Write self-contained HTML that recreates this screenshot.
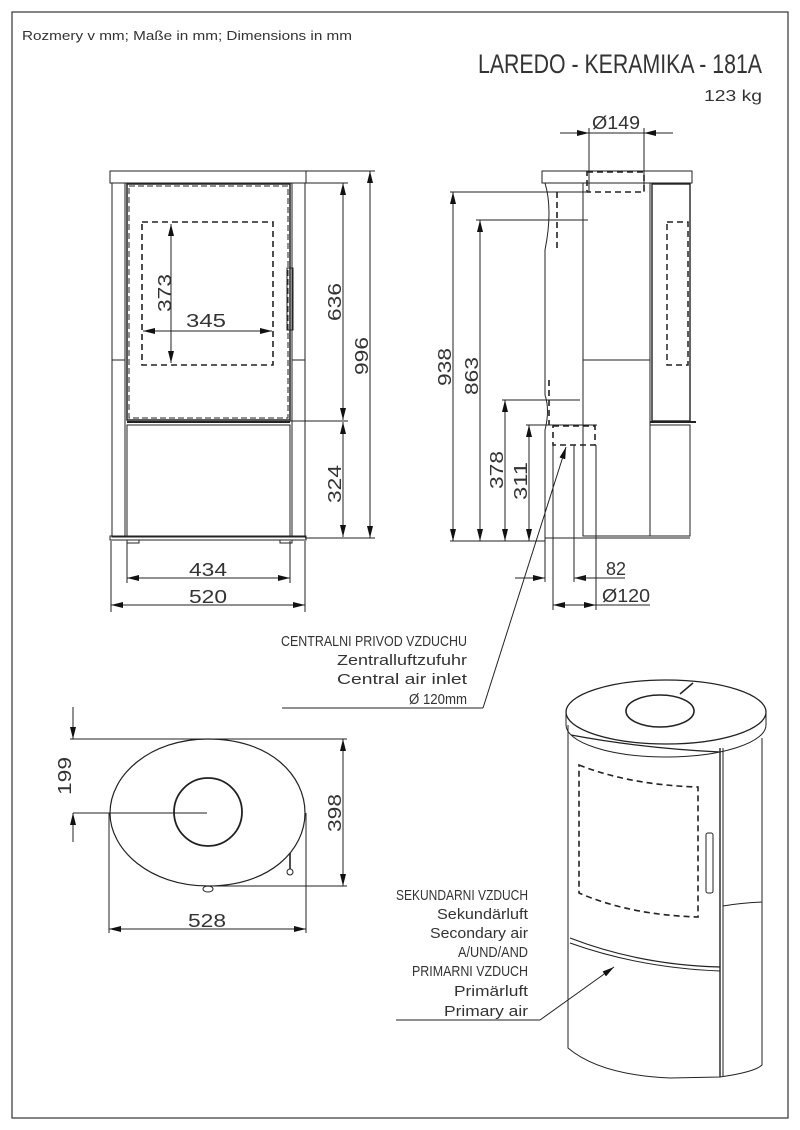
<!DOCTYPE html>
<html><head><meta charset="utf-8"><style>
html,body{margin:0;padding:0;background:#fff;}
svg{display:block;}
text{font-family:"Liberation Sans",sans-serif;fill:#333;}
</style></head><body>
<svg width="800" height="1130" viewBox="0 0 800 1130" xmlns="http://www.w3.org/2000/svg">
<defs>
<marker id="a" viewBox="0 0 12 6" refX="12" refY="3" markerWidth="12" markerHeight="6" markerUnits="userSpaceOnUse" orient="auto-start-reverse"><path d="M0,0L12,3L0,6z" fill="#111"/></marker>
</defs>
<rect x="12" y="12" width="776" height="1106" fill="none" stroke="#333" stroke-width="1.2"/>
<g fill="none" stroke="#222" stroke-width="1">
<rect x="110" y="171" width="196" height="12"/>
<rect x="112" y="183" width="193" height="354"/>
<line x1="125" y1="183" x2="125" y2="537"/><line x1="292" y1="183" x2="292" y2="537"/>
<line x1="112" y1="360" x2="125" y2="360"/><line x1="292" y1="360" x2="305" y2="360"/>
<rect x="127" y="184" width="163" height="236" stroke-width="1.5"/>
<rect x="129" y="186" width="159" height="232" stroke-dasharray="6,3"/>
<rect x="127" y="425" width="163" height="111"/>
<line x1="127" y1="422" x2="290" y2="422" stroke-width="2"/>
<rect x="110" y="536" width="196" height="4"/>
<rect x="127" y="540" width="12" height="3"/><rect x="280" y="540" width="12" height="3"/>
<rect x="287" y="268" width="6" height="62"/>
<rect x="142" y="222" width="131" height="143" stroke-width="1.6" stroke-dasharray="6,4"/>
<line x1="171" y1="224" x2="171" y2="363" marker-start="url(#a)" marker-end="url(#a)"/>
<line x1="143" y1="331" x2="272" y2="331" marker-start="url(#a)" marker-end="url(#a)"/>
<line x1="306" y1="171" x2="375" y2="171"/><line x1="305" y1="183" x2="348" y2="183"/>
<line x1="290" y1="421" x2="348" y2="421"/><line x1="305" y1="538" x2="375" y2="538"/>
<line x1="343" y1="183" x2="343" y2="420" marker-start="url(#a)" marker-end="url(#a)"/>
<line x1="343" y1="422" x2="343" y2="537" marker-start="url(#a)" marker-end="url(#a)"/>
<line x1="370" y1="171" x2="370" y2="538" marker-start="url(#a)" marker-end="url(#a)"/>
<line x1="127" y1="541" x2="127" y2="583"/><line x1="290" y1="541" x2="290" y2="583"/>
<line x1="111" y1="541" x2="111" y2="612"/><line x1="305" y1="541" x2="305" y2="612"/>
<line x1="127" y1="578" x2="290" y2="578" marker-start="url(#a)" marker-end="url(#a)"/>
<line x1="111" y1="605" x2="305" y2="605" marker-start="url(#a)" marker-end="url(#a)"/>
<rect x="542" y="171" width="150" height="12"/>
<path d="M545,183 Q553,210 545,250 L545,395 Q550,410 545,430 L545,538"/>
<rect x="583" y="183" width="67" height="353"/>
<line x1="583" y1="360" x2="650" y2="360"/>
<rect x="652" y="184" width="38" height="237" stroke-width="1.4"/>
<rect x="667" y="222" width="21" height="143" stroke-width="1.5" stroke-dasharray="6,4"/>
<line x1="650" y1="422" x2="696" y2="422" stroke-width="2"/>
<rect x="650" y="425" width="40" height="111"/>
<line x1="545" y1="538" x2="690" y2="538"/>
<rect x="587" y="172" width="57" height="20" stroke-width="1.6" stroke-dasharray="6,4"/>
<line x1="557" y1="192" x2="557" y2="250" stroke-width="1.6" stroke-dasharray="6,4"/>
<line x1="549" y1="380" x2="549" y2="425" stroke-width="1.6" stroke-dasharray="6,4"/>
<rect x="553" y="426" width="42" height="19" stroke-width="1.6" stroke-dasharray="6,4"/>
<line x1="589" y1="128" x2="589" y2="192"/><line x1="644" y1="128" x2="644" y2="192"/>
<line x1="560" y1="133" x2="589" y2="133" marker-end="url(#a)"/>
<line x1="673" y1="133" x2="644" y2="133" marker-end="url(#a)"/>
<line x1="589" y1="133" x2="644" y2="133"/>
<line x1="450" y1="192" x2="586" y2="192"/><line x1="476" y1="220" x2="588" y2="220"/>
<line x1="502" y1="400" x2="580" y2="400"/><line x1="526" y1="425" x2="597" y2="425"/>
<line x1="450" y1="541" x2="545" y2="541"/>
<line x1="453" y1="192" x2="453" y2="541" marker-start="url(#a)" marker-end="url(#a)"/>
<line x1="480" y1="220" x2="480" y2="541" marker-start="url(#a)" marker-end="url(#a)"/>
<line x1="505" y1="400" x2="505" y2="541" marker-start="url(#a)" marker-end="url(#a)"/>
<line x1="529" y1="425" x2="529" y2="541" marker-start="url(#a)" marker-end="url(#a)"/>
<line x1="545" y1="538" x2="545" y2="582"/><line x1="553" y1="445" x2="553" y2="610"/>
<line x1="574" y1="445" x2="574" y2="582"/><line x1="596" y1="445" x2="596" y2="610"/>
<line x1="515" y1="578" x2="545" y2="578" marker-end="url(#a)"/>
<line x1="604" y1="578" x2="574" y2="578" marker-end="url(#a)"/>
<line x1="574" y1="578" x2="625" y2="578"/>
<line x1="553" y1="605" x2="596" y2="605" marker-start="url(#a)" marker-end="url(#a)"/>
<line x1="596" y1="605" x2="650" y2="605"/>
<line x1="483" y1="708" x2="566" y2="447" marker-end="url(#a)"/>
<line x1="282" y1="708" x2="483" y2="708"/>
<path d="M208,739 C270,739 305,775 305,813 C305,850 270,886 208,886 C150,886 110,850 110,813 C110,775 150,739 208,739Z" stroke-width="1.2"/>
<circle cx="208" cy="812" r="34" stroke-width="1.8"/>
<line x1="290" y1="853" x2="290" y2="869" stroke-width="1.6"/><circle cx="290" cy="872" r="3"/>
<ellipse cx="208" cy="889" rx="5" ry="3"/>
<line x1="70" y1="739" x2="347" y2="739"/><line x1="73" y1="813" x2="207" y2="813"/>
<line x1="207" y1="886" x2="347" y2="886"/>
<line x1="73" y1="707" x2="73" y2="739" marker-end="url(#a)"/>
<line x1="73" y1="842" x2="73" y2="813" marker-end="url(#a)"/>
<line x1="343" y1="739" x2="343" y2="886" marker-start="url(#a)" marker-end="url(#a)"/>
<line x1="109" y1="813" x2="109" y2="933"/><line x1="306" y1="813" x2="306" y2="933"/>
<line x1="109" y1="929" x2="306" y2="929" marker-start="url(#a)" marker-end="url(#a)"/>
<ellipse cx="666" cy="712" rx="100" ry="32" stroke-width="1.3"/>
<path d="M566,712 L566,725 A100,32 0 0 0 766,725 L766,712"/>
<ellipse cx="660" cy="711" rx="34" ry="16" stroke-width="1.6"/>
<line x1="680" y1="694" x2="693" y2="683" stroke-width="1.5"/>
<path d="M568,725 L568,1048 Q600,1075 670,1078 L720,1077 Q755,1072 762,1065 L762,738"/>
<path d="M571,735 Q640,748 720,752" stroke-width="1.2"/>
<line x1="720" y1="748" x2="720" y2="1077" stroke-width="1.4"/><line x1="723" y1="748" x2="723" y2="1077"/>
<path d="M723,906 Q740,903 762,902"/>
<path d="M570,938 Q640,965 720,967" stroke-width="1.2"/><path d="M570,943 Q640,968 720,971"/>
<path d="M579,765 Q630,785 698,787 L698,917 Q630,915 579,893 Z" stroke-width="1.6" stroke-dasharray="6,4"/>
<rect x="706" y="833" width="7" height="60" rx="2"/>
<line x1="396" y1="1020" x2="540" y2="1020"/>
<line x1="540" y1="1020" x2="614" y2="967" marker-end="url(#a)"/>
</g>
<g font-size="18">
<text x="22" y="40" font-size="13" textLength="330" lengthAdjust="spacingAndGlyphs">Rozmery v mm; Maße in mm; Dimensions in mm</text>
<text x="478" y="73" font-size="27" textLength="284" lengthAdjust="spacingAndGlyphs">LAREDO - KERAMIKA - 181A</text>
<text x="704" y="101" font-size="16" textLength="58" lengthAdjust="spacingAndGlyphs">123 kg</text>
<text x="186" y="327" textLength="40" lengthAdjust="spacingAndGlyphs">345</text>
<text transform="translate(171,293) rotate(-90)" x="-19" textLength="38" lengthAdjust="spacingAndGlyphs">373</text>
<text transform="translate(341,302) rotate(-90)" x="-19" textLength="38" lengthAdjust="spacingAndGlyphs">636</text>
<text transform="translate(368,356) rotate(-90)" x="-19" textLength="38" lengthAdjust="spacingAndGlyphs">996</text>
<text transform="translate(341,484) rotate(-90)" x="-19" textLength="38" lengthAdjust="spacingAndGlyphs">324</text>
<text x="189" y="576" textLength="38" lengthAdjust="spacingAndGlyphs">434</text>
<text x="189" y="603" textLength="38" lengthAdjust="spacingAndGlyphs">520</text>
<text x="592" y="129" textLength="48" lengthAdjust="spacingAndGlyphs">Ø149</text>
<text transform="translate(451,367) rotate(-90)" x="-19" textLength="38" lengthAdjust="spacingAndGlyphs">938</text>
<text transform="translate(478,376) rotate(-90)" x="-19" textLength="38" lengthAdjust="spacingAndGlyphs">863</text>
<text transform="translate(503,470) rotate(-90)" x="-19" textLength="38" lengthAdjust="spacingAndGlyphs">378</text>
<text transform="translate(527,481) rotate(-90)" x="-19" textLength="38" lengthAdjust="spacingAndGlyphs">311</text>
<text x="606" y="575" textLength="20" lengthAdjust="spacingAndGlyphs">82</text>
<text x="602" y="602" textLength="48" lengthAdjust="spacingAndGlyphs">Ø120</text>
<text transform="translate(71,776) rotate(-90)" x="-19" textLength="38" lengthAdjust="spacingAndGlyphs">199</text>
<text transform="translate(341,813) rotate(-90)" x="-19" textLength="38" lengthAdjust="spacingAndGlyphs">398</text>
<text x="188" y="927" textLength="38" lengthAdjust="spacingAndGlyphs">528</text>
</g>
<g font-size="15" text-anchor="end">
<text x="467" y="646" textLength="186" lengthAdjust="spacingAndGlyphs">CENTRALNI PRIVOD VZDUCHU</text>
<text x="467" y="665" textLength="130" lengthAdjust="spacingAndGlyphs">Zentralluftzufuhr</text>
<text x="467" y="684" textLength="130" lengthAdjust="spacingAndGlyphs">Central air inlet</text>
<text x="467" y="704" textLength="58" lengthAdjust="spacingAndGlyphs">Ø 120mm</text>
<text x="528" y="900" textLength="132" lengthAdjust="spacingAndGlyphs">SEKUNDARNI VZDUCH</text>
<text x="528" y="919" textLength="91" lengthAdjust="spacingAndGlyphs">Sekundärluft</text>
<text x="528" y="938" textLength="98" lengthAdjust="spacingAndGlyphs">Secondary air</text>
<text x="528" y="957" textLength="70" lengthAdjust="spacingAndGlyphs">A/UND/AND</text>
<text x="528" y="976" textLength="116" lengthAdjust="spacingAndGlyphs">PRIMARNI VZDUCH</text>
<text x="528" y="996" textLength="74" lengthAdjust="spacingAndGlyphs">Primärluft</text>
<text x="528" y="1016" textLength="84" lengthAdjust="spacingAndGlyphs">Primary air</text>
</g>
</svg>
</body></html>
